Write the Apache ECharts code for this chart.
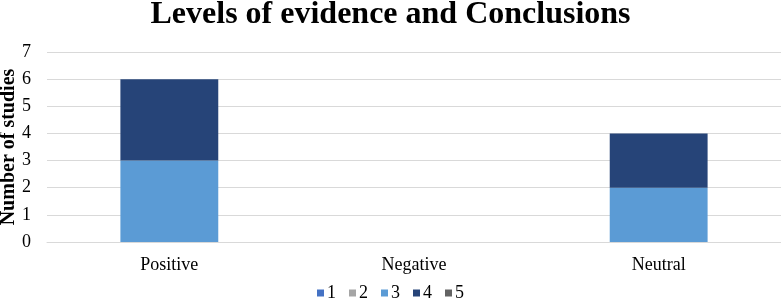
<!DOCTYPE html>
<html>
<head>
<meta charset="utf-8">
<script src="https://cdn.jsdelivr.net/npm/echarts@6/dist/echarts.min.js"></script>
<style>html,body{margin:0;padding:0;background:#fff;}#c{width:781px;height:308px;}</style>
</head>
<body>
<div id="c"></div>
<script>
const categories = ['Positive', 'Negative', 'Neutral'];
const seriesNames = ['1', '2', '3', '4', '5'];
const level1 = [0, 0, 0];
const level2 = [0, 0, 0];
const level3 = [3, 0, 2];
const level4 = [3, 0, 2];
const level5 = [0, 0, 0];
const yTicks = [0, 1, 2, 3, 4, 5, 6, 7];

const colors = ['#4472C4', '#A5A5A5', '#5B9BD5', '#264478', '#636363'];
const values = [level1, level2, level3, level4, level5];
const font = 'Liberation Serif';

const chart = echarts.init(document.getElementById('c'));
chart.setOption({
  animation: false,
  title: {
    text: 'Levels of evidence and Conclusions',
    left: 'center',
    top: -6,
    textStyle: { fontFamily: font, fontWeight: 'bold', fontSize: 32, color: '#000' }
  },
  legend: {
    bottom: 1,
    left: 'center',
    itemWidth: 7,
    itemHeight: 7,
    itemGap: 13,
    icon: 'rect',
    textStyle: { fontFamily: font, fontSize: 18, color: '#000', padding: [0, 0, 0, -2] },
    data: seriesNames
  },
  grid: { left: 47, right: 0, top: 52, bottom: 66, containLabel: false, outerBoundsMode: 'none' },
  xAxis: {
    type: 'category',
    data: categories,
    axisTick: { show: false },
    axisLine: { lineStyle: { color: '#D9D9D9' } },
    axisLabel: { fontFamily: font, fontSize: 18, color: '#000', margin: 14 }
  },
  yAxis: {
    type: 'value',
    min: yTicks[0],
    max: yTicks[yTicks.length - 1],
    interval: 1,
    name: 'Number of studies',
    nameLocation: 'middle',
    nameGap: 28,
    nameMoveOverlap: false,
    nameTextStyle: { fontFamily: font, fontWeight: 'bold', fontSize: 20, color: '#000' },
    axisLabel: { fontFamily: font, fontSize: 18, color: '#000', margin: 16 },
    splitLine: { lineStyle: { color: '#D9D9D9' } },
    axisLine: { show: false },
    axisTick: { show: false }
  },
  series: seriesNames.map((n, i) => ({
    name: n,
    type: 'bar',
    stack: 'total',
    barWidth: '40%',
    itemStyle: { color: colors[i] },
    data: values[i]
  }))
});
</script>
</body>
</html>
